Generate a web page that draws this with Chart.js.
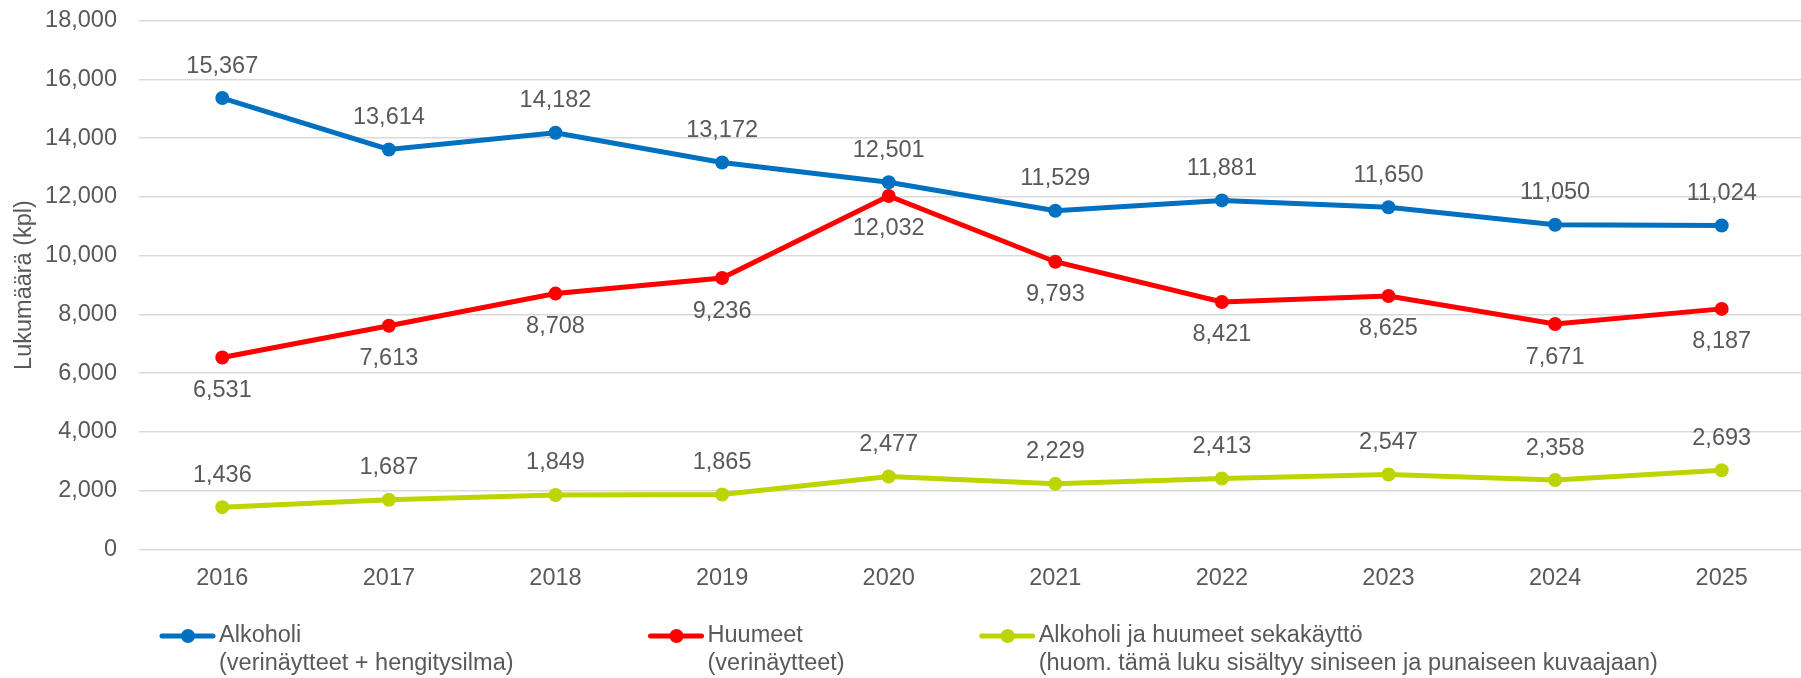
<!DOCTYPE html>
<html>
<head>
<meta charset="utf-8">
<script src="https://cdn.jsdelivr.net/npm/chart.js@4"></script>
<style>
  html, body { margin: 0; padding: 0; background: #fff; overflow: hidden; }
  /* plot area runs a few px past the right edge, like the original */
  #wrap { width: 1805px; height: 678px; }
</style>
</head>
<body>
<div id="wrap"><canvas id="myLineChart"></canvas></div>
<script>
// Start Data
const years = ["2016", "2017", "2018", "2019", "2020", "2021", "2022", "2023", "2024", "2025"];
const alkoholi = [15367, 13614, 14182, 13172, 12501, 11529, 11881, 11650, 11050, 11024];
const huumeet = [6531, 7613, 8708, 9236, 12032, 9793, 8421, 8625, 7671, 8187];
const sekakaytto = [1436, 1687, 1849, 1865, 2477, 2229, 2413, 2547, 2358, 2693];
const legendAlkoholi = ["Alkoholi", "(verinäytteet + hengitysilma)"];
const legendHuumeet = ["Huumeet", "(verinäytteet)"];
const legendSeka = ["Alkoholi ja huumeet sekakäyttö", "(huom. tämä luku sisältyy siniseen ja punaiseen kuvaajaan)"];
const yAxisTitle = "Lukumäärä (kpl)";
// End Data

const FONT = "'Liberation Sans', Arial, sans-serif";
const TEXT_COLOR = "#595959";
Chart.defaults.font.family = FONT;
Chart.defaults.color = TEXT_COLOR;

const fmt = (v) => Number(v).toLocaleString("en-US");

// Start Value Labels
const valueLabels = {
  id: "valueLabels",
  afterDatasetsDraw(chart) {
    const ctx = chart.ctx;
    ctx.save();
    ctx.font = "23.5px " + FONT;
    ctx.fillStyle = TEXT_COLOR;
    ctx.textAlign = "center";
    ctx.textBaseline = "middle";
    chart.data.datasets.forEach((ds, i) => {
      const meta = chart.getDatasetMeta(i);
      meta.data.forEach((pt, j) => {
        const dy = ds.labelPos === "below" ? 33 : -32;
        ctx.fillText(fmt(ds.data[j]), pt.x, pt.y + dy);
      });
    });
    ctx.restore();
  },
};
// End Value Labels

// Start Legend
const bottomLegend = {
  id: "bottomLegend",
  afterDraw(chart) {
    const ctx = chart.ctx;
    ctx.save();
    ctx.font = "23.5px " + FONT;
    ctx.textAlign = "left";
    ctx.textBaseline = "middle";
    let x = 160;
    const y1 = 636, y2 = 664;
    chart.data.datasets.forEach((ds) => {
      ctx.strokeStyle = ds.borderColor;
      ctx.fillStyle = ds.borderColor;
      ctx.lineWidth = 5;
      ctx.lineCap = "round";
      ctx.beginPath();
      ctx.moveTo(x + 2, y1);
      ctx.lineTo(x + 53, y1);
      ctx.stroke();
      ctx.beginPath();
      ctx.arc(x + 28, y1, 7, 0, Math.PI * 2);
      ctx.fill();
      ctx.fillStyle = TEXT_COLOR;
      ctx.fillText(ds.legendText[0], x + 59, y1);
      ctx.fillText(ds.legendText[1], x + 59, y2);
      const w = Math.max(ctx.measureText(ds.legendText[0]).width, ctx.measureText(ds.legendText[1]).width);
      x += 59 + w + 135;
    });
    ctx.restore();
  },
};
// End Legend

const line_ctx = document.getElementById("myLineChart");

const makeSet = (label, data, color, legendText, labelPos, order) => ({
  label: label,
  data: data,
  borderColor: color,
  backgroundColor: color,
  borderWidth: 5,
  pointRadius: 7,
  pointHoverRadius: 7,
  pointBorderWidth: 0,
  pointBackgroundColor: color,
  tension: 0,
  legendText: legendText,
  labelPos: labelPos,
  order: order,
});

const lineChart = new Chart(line_ctx, {
  type: "line",
  data: {
    labels: years,
    datasets: [
      makeSet("Alkoholi", alkoholi, "#0070C0", legendAlkoholi, "above", 1),
      makeSet("Huumeet", huumeet, "#FF0000", legendHuumeet, "below", 0),
      makeSet("Alkoholi ja huumeet sekakäyttö", sekakaytto, "#BED400", legendSeka, "above", 2),
    ],
  },
  options: {
    responsive: true,
    maintainAspectRatio: false,
    animation: false,
    layout: {
      autoPadding: false,
      padding: { left: 6, right: 0, top: 20.7, bottom: 0 },
    },
    scales: {
      x: {
        offset: true,
        grid: { display: false, drawTicks: false },
        border: { display: false },
        ticks: { padding: 15, font: { size: 23.5 }, color: TEXT_COLOR },
        afterFit: (scale) => {
          scale.height = 128.7;
          scale.paddingLeft = 0;
          scale.paddingRight = 0;
        },
      },
      y: {
        min: 0,
        max: 18000,
        border: { display: false },
        grid: { color: "#D9D9D9", lineWidth: 1.5, drawTicks: false },
        ticks: {
          stepSize: 2000,
          padding: 22,
          font: { size: 23.5 },
          color: TEXT_COLOR,
          callback: (v) => fmt(v),
        },
        title: {
          display: true,
          text: yAxisTitle,
          font: { size: 23.5 },
          color: TEXT_COLOR,
        },
        afterFit: (scale) => {
          scale.width = 133;
          scale.paddingTop = 0;
          scale.paddingBottom = 0;
        },
      },
    },
    plugins: {
      legend: { display: false },
      tooltip: { enabled: false },
    },
  },
  plugins: [valueLabels, bottomLegend],
});
</script>
</body>
</html>
